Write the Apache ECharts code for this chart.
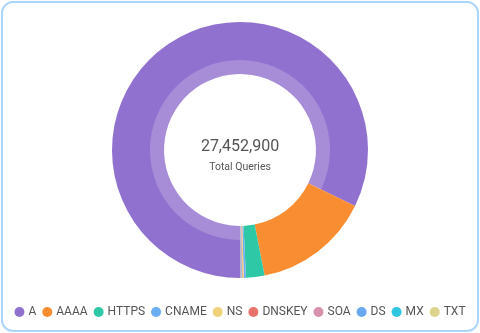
<!DOCTYPE html>
<html>
<head>
<meta charset="utf-8">
<script src="https://cdn.jsdelivr.net/npm/echarts@6/dist/echarts.min.js"></script>
<style>
html,body{margin:0;padding:0;background:#fff;}
#card{position:absolute;left:1px;top:1px;width:474px;height:327px;border:2px solid #acd5fb;border-radius:12px;background:#fff;}
#chart{position:absolute;left:0;top:0;width:480px;height:333px;}
</style>
</head>
<body>
<div id="card"></div>
<div id="chart"></div>
<script>
const categories = ['A','AAAA','HTTPS','CNAME','NS','DNSKEY','SOA','DS','MX','TXT'];
const values = [22594000, 4036000, 640000, 76000, 45000, 18000, 14000, 11000, 9000, 9900];
const colors = ['#9171cf','#f98d31','#2ec8a6','#6aaef4','#f0d27a','#e8736c','#d891ad','#6aa9ef','#2fc6e0','#dcd48b'];
const centerLabel = 'Total Queries';

const total = values.reduce((a,b)=>a+b,0);
const fmt = total.toLocaleString('en-US');

const chart = echarts.init(document.getElementById('chart'));
const mainData = categories.map((c,i)=>({name:c,value:values[i],itemStyle:{color:colors[i]}}));
const bandData = categories.map((c,i)=>({name:c+'_band',value:values[i],itemStyle:{color: i===0 ? 'rgba(255,255,255,0.2)' : 'rgba(0,0,0,0)'}}));

chart.setOption({
  animation:false,
  textStyle:{fontFamily:'Roboto'},
  title:{
    text: fmt,
    subtext: centerLabel,
    left:'center',
    top:134,
    itemGap:7,
    textStyle:{fontSize:16,fontWeight:'normal',color:'#555',fontFamily:'Roboto'},
    subtextStyle:{fontSize:10.5,color:'#555',fontFamily:'Roboto'}
  },
  legend:{
    data: categories,
    bottom:10,
    left:'center',
    icon:'circle',
    itemWidth:10,
    itemHeight:10,
    itemGap:6,
    textStyle:{fontSize:12,color:'#555',fontFamily:'Roboto',padding:[0,0,0,-1]}
  },
  series:[
    {
      type:'pie',
      name:'main',
      center:[240,150],
      radius:[76,128],
      startAngle:270.3,
      clockwise:true,
      label:{show:false},
      labelLine:{show:false},
      itemStyle:{borderWidth:0},
      emphasis:{disabled:true},
      data: mainData
    },
    {
      type:'pie',
      name:'band',
      center:[240,150],
      radius:[76,90],
      startAngle:270.3,
      clockwise:true,
      silent:true,
      label:{show:false},
      labelLine:{show:false},
      itemStyle:{borderWidth:0},
      emphasis:{disabled:true},
      data: bandData
    }
  ]
});
</script>
</body>
</html>
